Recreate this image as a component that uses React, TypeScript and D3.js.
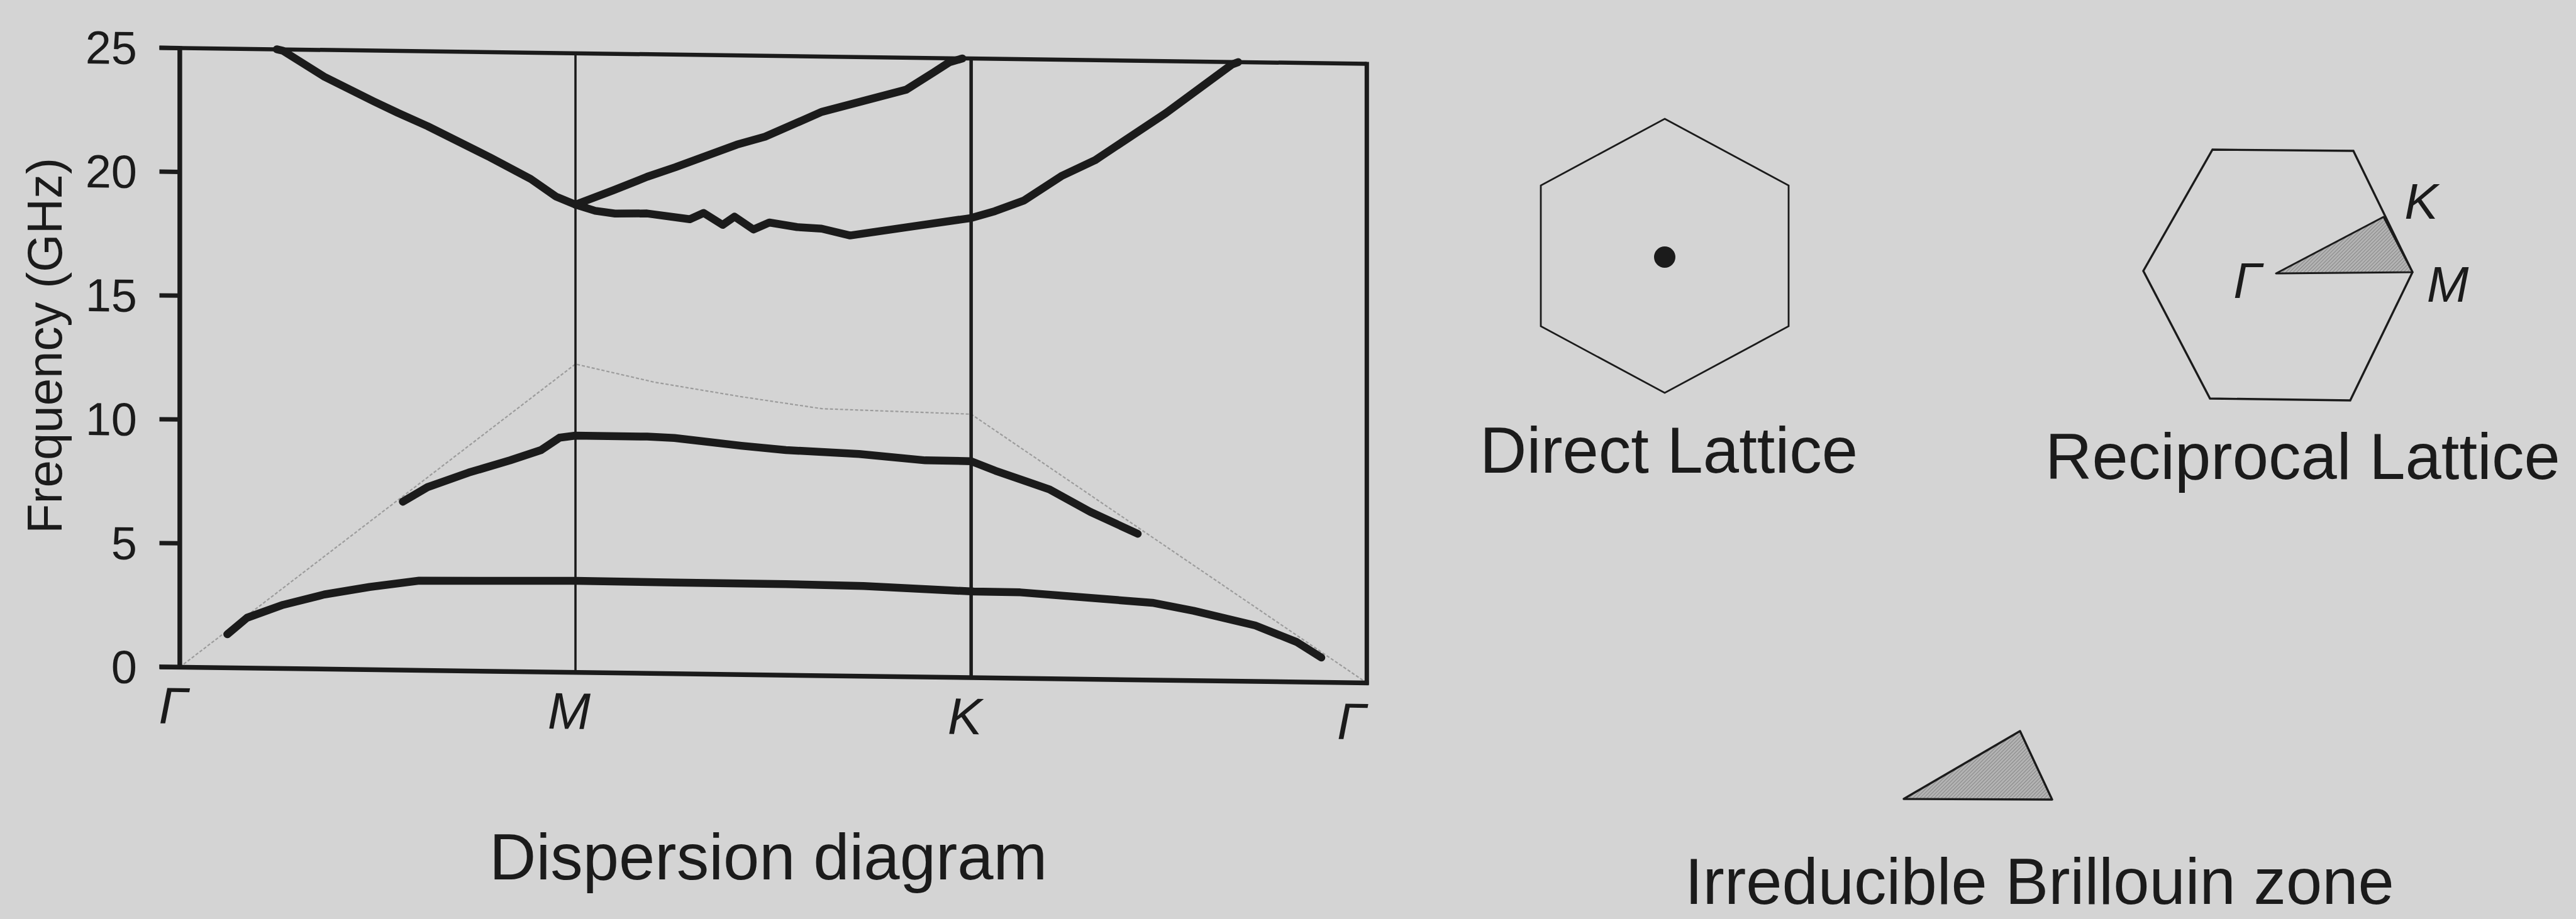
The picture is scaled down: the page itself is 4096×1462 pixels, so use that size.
import React from 'react';
import * as d3 from 'd3';

const W = 4096;
const H = 1462;

// Positions along the Γ–M–K–Γ path (0..3) and frequency in GHz
const pathTicks = [0, 1, 2, 3];
const pathLabels = ['Γ', 'M', 'K', 'Γ'];
const freqTicks = [0, 5, 10, 15, 20, 25];

type Pt = [number, number];

const band1: Pt[] = [
  [0.12, 1.35], [0.17, 2.03], [0.261, 2.57], [0.365, 3.01], [0.48, 3.34], [0.605, 3.62],
  [0.783, 3.65], [1.0, 3.7], [1.251, 3.68], [1.532, 3.68], [1.728, 3.64], [2.007, 3.48],
  [2.124, 3.47], [2.458, 3.12], [2.562, 2.82], [2.718, 2.26], [2.822, 1.62], [2.885, 1.0],
];

const band2: Pt[] = [
  [0.5636, 6.8], [0.626, 7.4], [0.73, 8.01], [0.835, 8.53], [0.913, 8.96], [0.96, 9.47],
  [1.0, 9.56], [1.181, 9.56], [1.25, 9.52], [1.419, 9.24], [1.532, 9.09], [1.717, 8.97],
  [1.884, 8.75], [2.0, 8.74], [2.061, 8.37], [2.197, 7.65], [2.301, 6.76], [2.421, 5.9],
];

const band3: Pt[] = [
  [1.0, 18.89], [1.05, 18.65], [1.1, 18.55], [1.181, 18.57], [1.289, 18.36], [1.324, 18.62],
  [1.372, 18.15], [1.402, 18.49], [1.45, 17.98], [1.49, 18.27], [1.56, 18.1], [1.622, 18.05],
  [1.694, 17.79], [1.836, 18.15], [2.0, 18.56], [2.06, 18.85], [2.134, 19.3], [2.228, 20.3],
  [2.313, 20.96], [2.492, 22.9], [2.659, 24.9], [2.675, 25],
];

const band4: Pt[] = [
  [0.245, 25], [0.26, 24.95], [0.365, 23.92], [0.49, 22.95], [0.551, 22.5], [0.626, 21.98],
  [0.783, 20.76], [0.887, 19.9], [0.95, 19.21], [1.0, 18.89],
];

const band5: Pt[] = [
  [1.0, 18.89], [1.096, 19.49], [1.181, 20.05], [1.252, 20.45], [1.408, 21.4], [1.479, 21.73],
  [1.623, 22.77], [1.836, 23.71], [1.905, 24.42], [1.944, 24.83], [1.978, 25],
];

// Light line (free-space reference) along the path
const lightLine: Pt[] = [
  [0, 0], [1, 12.45], [1.2, 11.76], [1.415, 11.23], [1.623, 10.78], [2, 10.64], [3, 0],
];

const bands = [band1, band2, band3, band4, band5];

// Brillouin-zone sketch geometry
const directCenter: Pt = [2647, 407];
const directHalf = { w: 197, h: 218, side: 112 };
const reciprocalHex: Pt[] = [
  [3518, 238], [3742, 240], [3836, 433], [3737, 637], [3514, 634], [3408, 431],
];
const ibzInHex: Pt[] = [[3619, 435], [3790, 345], [3836, 433]];
const ibzAlone: Pt[] = [[3027, 1271], [3212, 1163], [3263, 1272]];

const INK = '#1b1b1b';
const BG = '#d4d4d4';
const FONT = '"Liberation Sans", Arial, Helvetica, sans-serif';

const plotLeft = 285.9;
const plotRight = 2173.3;
const skew = 0.0133;

export default function App() {
  const x = d3.scaleLinear().domain([0, 3]).range([plotLeft, plotRight]);
  const y = d3.scaleLinear().domain([0, 25]).range([1061.3, 76.4]);
  const line = d3.line<Pt>().x((d) => x(d[0])).y((d) => y(d[1]));
  const poly = (pts: Pt[]) => 'M' + pts.map((p) => p.join(',')).join('L') + 'Z';

  const [cx, cy] = directCenter;
  const hexPts: Pt[] = [
    [cx, cy - directHalf.h],
    [cx + directHalf.w, cy - directHalf.side],
    [cx + directHalf.w, cy + directHalf.side],
    [cx, cy + directHalf.h],
    [cx - directHalf.w, cy + directHalf.side],
    [cx - directHalf.w, cy - directHalf.side],
  ];

  return (
    <svg
      width={W}
      height={H}
      viewBox={`0 0 ${W} ${H}`}
      style={{ position: 'absolute', left: 0, top: 0, display: 'block' }}
      fontFamily={FONT}
    >
      <defs>
        <pattern id="hatch" patternUnits="userSpaceOnUse" width="4" height="4" patternTransform="rotate(45)">
          <rect width="4" height="4" fill="#b3b3b3" />
          <line x1="0" y1="0" x2="0" y2="4" stroke="#7d7d7d" strokeWidth="1.6" />
        </pattern>
      </defs>
      <rect x={0} y={0} width={W} height={H} fill={BG} />

      {/* dispersion diagram */}
      <g transform={`matrix(1 ${skew} 0 1 0 ${-skew * plotLeft})`}>
        <path d={line(lightLine) || ''} fill="none" stroke="#9c9c9c" strokeWidth={2.2} strokeDasharray="5 3" />

        {/* frame */}
        <line x1={253.5} x2={x(3)} y1={y(25)} y2={y(25)} stroke={INK} strokeWidth={6.5} />
        <line x1={253.5} x2={x(3) + 3} y1={y(0)} y2={y(0)} stroke={INK} strokeWidth={7.5} />
        <line x1={x(0)} x2={x(0)} y1={y(25) - 3} y2={y(0) + 3} stroke={INK} strokeWidth={7.5} />
        <line x1={x(3)} x2={x(3)} y1={y(25) - 3} y2={y(0) + 3} stroke={INK} strokeWidth={7} />
        <line x1={x(1)} x2={x(1)} y1={y(25)} y2={y(0)} stroke={INK} strokeWidth={3.6} />
        <line x1={x(2)} x2={x(2)} y1={y(25)} y2={y(0)} stroke={INK} strokeWidth={5.5} />

        {freqTicks.map((t) => (
          <g key={t}>
            <line x1={253.5} x2={x(0)} y1={y(t)} y2={y(t)} stroke={INK} strokeWidth={7} />
            <text x={218} y={y(t)} dy="0.36em" textAnchor="end" fontSize={74} fill={INK}>
              {t}
            </text>
          </g>
        ))}

        {pathTicks.map((t, i) => (
          <text
            key={i}
            x={x(t) - (i === 3 ? 24 : 10)}
            y={y(0) + 90}
            textAnchor="middle"
            fontSize={82}
            fontStyle="italic"
            fill={INK}
          >
            {pathLabels[i]}
          </text>
        ))}

        {bands.map((b, i) => (
          <path
            key={i}
            d={line(b) || ''}
            fill="none"
            stroke={INK}
            strokeWidth={12.5}
            strokeLinejoin="round"
            strokeLinecap="round"
          />
        ))}
      </g>

      <text transform="translate(98,550) rotate(-90)" textAnchor="middle" fontSize={78} fill={INK}>
        Frequency (GHz)
      </text>
      <text x={778} y={1399} fontSize={103} fill={INK}>
        Dispersion diagram
      </text>

      {/* direct lattice */}
      <path d={poly(hexPts)} fill="none" stroke={INK} strokeWidth={2.8} />
      <circle cx={cx} cy={cy + 2} r={17} fill={INK} />
      <text x={2353} y={752} fontSize={103} fill={INK}>
        Direct Lattice
      </text>

      {/* reciprocal lattice */}
      <path d={poly(reciprocalHex)} fill="none" stroke={INK} strokeWidth={3.4} />
      <path d={poly(ibzInHex)} fill="url(#hatch)" stroke={INK} strokeWidth={3} strokeLinejoin="round" />
      <text x={3574} y={474} textAnchor="middle" fontSize={80} fontStyle="italic" fill={INK}>Γ</text>
      <text x={3850} y={348} textAnchor="middle" fontSize={80} fontStyle="italic" fill={INK}>K</text>
      <text x={3892} y={480} textAnchor="middle" fontSize={80} fontStyle="italic" fill={INK}>M</text>
      <text x={3252} y={762} fontSize={103} fill={INK}>
        Reciprocal Lattice
      </text>

      {/* irreducible Brillouin zone */}
      <path d={poly(ibzAlone)} fill="url(#hatch)" stroke={INK} strokeWidth={3.4} strokeLinejoin="round" />
      <text x={2679} y={1438} fontSize={103} fill={INK}>
        Irreducible Brillouin zone
      </text>
    </svg>
  );
}
